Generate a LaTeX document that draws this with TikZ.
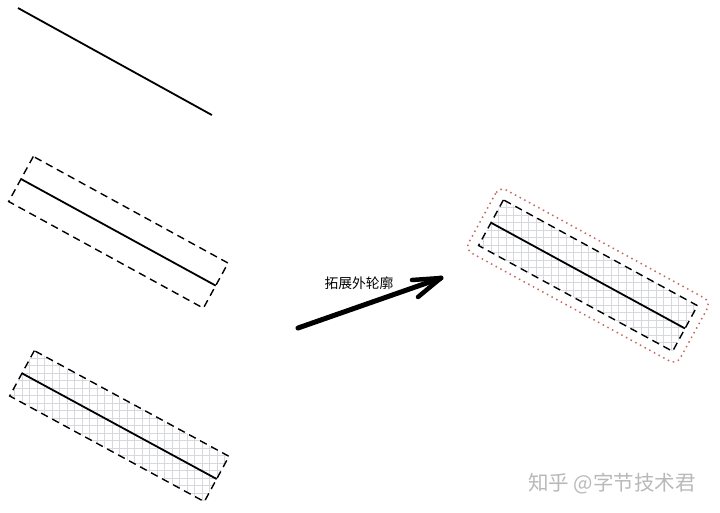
\documentclass[tikz,border=0pt]{standalone}
\usepackage{fontspec}
\newfontfamily\cjk{Noto Sans CJK SC}
\begin{document}
\begin{tikzpicture}[x=1pt,y=-1pt,
  mainline/.style={line width=1.8pt, draw=black},
  dashbox/.style={draw=black, line width=1.4pt, dash pattern=on 7.5pt off 5pt},
  gridfill/.style={draw={rgb,255:red,214;green,216;blue,222}, line width=0.7pt},
  reddots/.style={draw={rgb,255:red,200;green,105;blue,95}, line width=1.5pt, dash pattern=on 1.5pt off 3.8pt, rounded corners=8pt},
  bigarrow/.style={line width=5pt, line cap=round, line join=round, draw=black},
]
\useasboundingbox (0,0) rectangle (720,512);
\fill[white] (0,0) rectangle (720,512);

% top: plain line
\begin{scope}[shift={(18,8)}, rotate=-28.9]
  \coordinate (t1) at (0,0);
  \coordinate (t2) at (221.5,0);
  \draw[mainline] (t1) -- (t2);
\end{scope}

% middle: line with dashed box
\begin{scope}[shift={(21,179)}, rotate=-28.7]
  \coordinate (m1) at (0,0);
  \coordinate (m2) at (222,0);
  \draw[dashbox] (0,-25.7) rectangle (222,25.7);
  \draw[mainline] (m1) -- (m2);
\end{scope}

% bottom: line with dashed, gridded box
\begin{scope}[shift={(22,373.3)}, rotate=-28.5]
  \coordinate (b1) at (0,0);
  \coordinate (b2) at (221.5,0);
  \begin{scope}
    \clip (0,-25.8) rectangle (221.5,25.8);
    \draw[gridfill, rotate=28.5] (-80,-260) grid[step=7.5pt] (320,260);
  \end{scope}
  \draw[dashbox] (0,-25.8) rectangle (221.5,25.8);
  \draw[mainline] (b1) -- (b2);
\end{scope}

% right: expanded outline
\begin{scope}[shift={(491,222.7)}, rotate=-28.6]
  \coordinate (r1) at (0,0);
  \coordinate (r2) at (221,0);
  \begin{scope}
    \clip (0,-26) rectangle (221,26);
    \draw[gridfill, rotate=28.6] (-80,-260) grid[step=7.5pt] (320,260);
  \end{scope}
  \draw[reddots] (-10,-36) rectangle (231,36);
  \draw[dashbox] (0,-26) rectangle (221,26);
  \draw[mainline] (r1) -- (r2);
\end{scope}

% arrow
\coordinate (as) at (298,328);
\coordinate (ae) at (441,278);
\coordinate (ha) at (412,280);
\coordinate (hb) at (418,297);
\draw[bigarrow] (as) -- (ae);
\draw[bigarrow, line width=4.5pt] (ha) -- (ae) -- (hb);
\node[font=\cjk\fontsize{13.8}{16}\selectfont, inner sep=0pt] (lbl) at (359,283) {拓展外轮廓};

% watermark
\node[font=\cjk\fontsize{20.5}{24}\selectfont, text={rgb,255:red,185;green,185;blue,185}, inner sep=0pt] (wm) at (612,484) {知乎 @字节技术君};
\end{tikzpicture}
\end{document}
